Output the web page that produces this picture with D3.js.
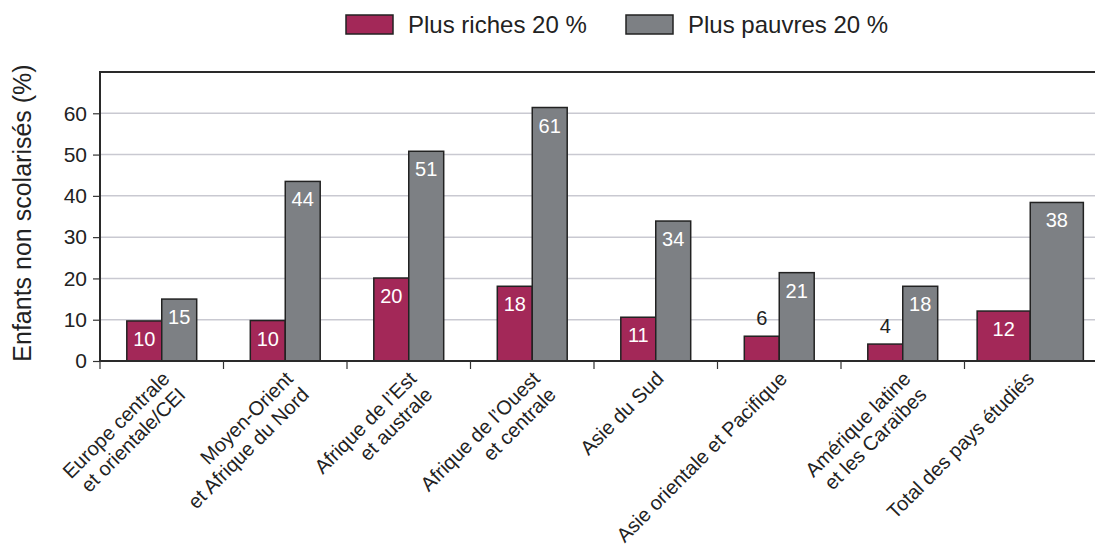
<!DOCTYPE html>
<html><head><meta charset="utf-8">
<script src="https://cdn.jsdelivr.net/npm/d3@7"></script>
<style>body{margin:0;background:#fff}svg{display:block;font-family:"Liberation Sans",Arial,sans-serif}</style>
</head><body><svg id="c" width="1095" height="546"></svg>
<script>
const categories = [
  ["Europe centrale","et orientale/CEI"],
  ["Moyen-Orient","et Afrique du Nord"],
  ["Afrique de l\u2019Est","et australe"],
  ["Afrique de l\u2019Ouest","et centrale"],
  ["Asie du Sud"],
  ["Asie orientale et Pacifique"],
  ["Am\u00e9rique latine","et les Cara\u00efbes"],
  ["Total des pays \u00e9tudi\u00e9s"]
];
const richest = [9.7, 9.8, 20.1, 18.1, 10.6, 6.0, 4.1, 12.1];
const poorest = [15.0, 43.5, 50.8, 61.4, 33.9, 21.4, 18.1, 38.4];
const seriesNames = ["Plus riches 20 %", "Plus pauvres 20 %"];
const yTicks = [0, 10, 20, 30, 40, 50, 60];
const yTitle = "Enfants non scolaris\u00e9s (%)";

const colors = ["#a32858", "#7d8084"];
const svg = d3.select("#c");
const x = d3.scaleBand().domain(d3.range(categories.length)).range([100, 1088]);
const y = d3.scaleLinear().domain([0, 70]).range([361, 72]);
const font = "Liberation Sans, Arial, sans-serif";

// gridlines
svg.append("g").selectAll("line").data(yTicks.filter(d=>d>0)).join("line")
  .attr("x1", 100).attr("x2", 1100).attr("y1", d=>y(d)).attr("y2", d=>y(d))
  .attr("stroke", "#c9c9d1").attr("stroke-width", 1.5);

// bars
const groups = svg.append("g").selectAll("g").data(categories.map((c,i)=>i)).join("g");
groups.each(function(i){
  const g = d3.select(this);
  const last = i === categories.length - 1;
  const bw = x.step() * (last ? 0.43 : 0.283);
  const cx = x(i) + x.bandwidth()/2 + (last ? 4 : 0);
  [richest[i], poorest[i]].forEach((v, s) => {
    const x0 = cx + (s === 0 ? -bw : 0);
    g.append("rect").attr("x", x0).attr("y", y(v)).attr("width", bw).attr("height", y(0) - y(v))
      .attr("fill", colors[s]).attr("stroke", "#222").attr("stroke-width", 1.5);
    const inside = y(0) - y(v) > 35;
    g.append("text").attr("x", x0 + bw/2).attr("y", inside ? y(v) + 25 : y(v) - 11)
      .attr("text-anchor", "middle").attr("font-size", 20)
      .attr("fill", inside ? "#fff" : "#222").text(d3.format(".0f")(v));
  });
});

// y axis
const ya = svg.append("g").attr("transform", "translate(100,0)")
  .call(d3.axisLeft(y).tickValues(yTicks).tickSize(7).tickPadding(6).tickFormat(d3.format("d")));
ya.select(".domain").remove();
ya.selectAll(".tick line").attr("stroke", "#333").attr("stroke-width", 1.2);
ya.selectAll(".tick text").attr("font-size", 21).attr("font-family", font).attr("fill", "#222");
svg.append("line").attr("x1", 100).attr("x2", 100).attr("y1", 72).attr("y2", 361).attr("stroke", "#2a2a2a").attr("stroke-width", 2);
svg.append("line").attr("x1", 99).attr("x2", 1100).attr("y1", 72).attr("y2", 72).attr("stroke", "#2a2a2a").attr("stroke-width", 2);

// x axis
const xa = svg.append("g").attr("transform", "translate(0,361)");
xa.append("line").attr("x1", 99).attr("x2", 1100).attr("stroke", "#2a2a2a").attr("stroke-width", 2);
xa.selectAll("line.t").data(d3.range(categories.length)).join("line").attr("class","t")
  .attr("x1", d=>x(d)).attr("x2", d=>x(d)).attr("y1", 0).attr("y2", 8).attr("stroke", "#333").attr("stroke-width", 1.2);
const lab = xa.selectAll("text").data(categories).join("text")
  .attr("transform", (d,i)=>`translate(${x(i)+x.bandwidth()/2+9},19) rotate(-45)`)
  .attr("text-anchor", "end").attr("font-size", 20).attr("fill", "#222");
lab.selectAll("tspan").data(d=>d).join("tspan").attr("x", 0).attr("dy", (d,j)=>j===0?0:"1.13em").text(d=>d);

// y title
svg.append("text").attr("transform", "translate(31,213) rotate(-90)").attr("text-anchor", "middle")
  .attr("font-size", 25).attr("fill", "#222").text(yTitle);

// legend
const lx = [346, 626];
seriesNames.forEach((n, s) => {
  svg.append("rect").attr("x", lx[s]).attr("y", 15).attr("width", 47).attr("height", 19)
    .attr("fill", colors[s]).attr("stroke", "#222").attr("stroke-width", 1.5);
  svg.append("text").attr("x", lx[s] + 62).attr("y", 33).attr("font-size", 24).attr("fill", "#222").text(n);
});
</script></body></html>
